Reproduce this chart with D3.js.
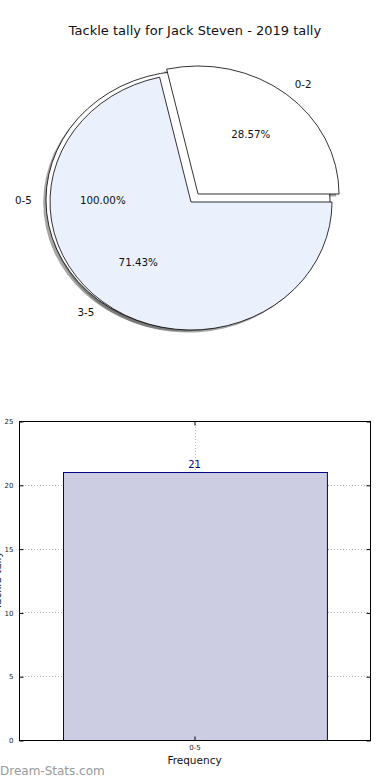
<!DOCTYPE html>
<html>
<head>
<meta charset="utf-8">
<script src="https://cdn.jsdelivr.net/npm/d3@7"></script>
<style>
  body { margin: 0; background: #fff; }
  text { font-family: "DejaVu Sans", sans-serif; }
</style>
</head>
<body>
<svg id="container" width="390" height="780"></svg>
<script>
const title = "Tackle tally for Jack Steven - 2019 tally";

// outer pie (whole range) and inner pie (split)
const outerLabels = ["0-5"];
const outerValues = [21];
const innerLabels = ["0-2", "3-5"];
const innerValues = [6, 15];
const innerColors = ["#ffffff", "#eaf0fc"];
const innerExplode = [0.08, 0];

// bar chart
const barLabels = ["0-5"];
const barValues = [21];
const yTicks = [0, 5, 10, 15, 20, 25];

const svg = d3.select("#container");

svg.append("text")
  .attr("x", 195)
  .attr("y", 35)
  .attr("text-anchor", "middle")
  .attr("font-size", 13)
  .attr("fill", "#111")
  .text(title);

// ---- pie ----
const R = 100;
const rx = 141;
const ry = 128;
const cx = 191;
const cy = 202;

// matplotlib style: start at 3 o'clock, counterclockwise
const pie = d3.pie().sort(null).startAngle(Math.PI / 2).endAngle(Math.PI / 2 - 2 * Math.PI);
const arc = d3.arc().innerRadius(0).outerRadius(R);

const outerArcs = pie(outerValues);
const innerArcs = pie(innerValues);

// direction helpers (d3 angle -> screen unit vector)
const dir = (a) => [Math.sin(a), -Math.cos(a)];

const outerCenter = { x: 188, y: 200, rx: 142, ry: 129 };

const innerCenters = innerArcs.map((d, i) => {
  const [ux, uy] = dir((d.startAngle + d.endAngle) / 2);
  return { x: cx + ux * innerExplode[i] * rx, y: cy + uy * innerExplode[i] * ry, rx: rx, ry: ry };
});

const shadows = svg.append("g");
const wedges = svg.append("g");
const labels = svg.append("g");

function drawWedge(d, c, fill) {
  const tr = `translate(${c.x},${c.y}) scale(${c.rx / R},${c.ry / R})`;
  shadows.append("path")
    .attr("d", arc(d))
    .attr("transform", `translate(${c.x - 2.8},${c.y + 2.6}) scale(${c.rx / R},${c.ry / R})`)
    .attr("fill", "rgba(77,77,77,0.5)");
  wedges.append("path")
    .attr("d", arc(d))
    .attr("transform", tr)
    .attr("fill", fill)
    .attr("stroke", "#000")
    .attr("stroke-width", 0.8)
    .attr("stroke-linejoin", "miter")
    .attr("vector-effect", "non-scaling-stroke");
}

function drawLabels(d, c, label) {
  const [ux, uy] = dir((d.startAngle + d.endAngle) / 2);
  const pct = (d.endAngle - d.startAngle) / (-2 * Math.PI) * 100;
  labels.append("text")
    .attr("x", c.x + ux * 1.1 * c.rx)
    .attr("y", c.y + uy * 1.1 * c.ry)
    .attr("text-anchor", ux > 0 ? "start" : "end")
    .attr("dominant-baseline", "central")
    .attr("font-size", 10.3)
    .attr("fill", "#111")
    .text(label);
  labels.append("text")
    .attr("x", c.x + ux * 0.6 * c.rx)
    .attr("y", c.y + uy * 0.6 * c.ry)
    .attr("text-anchor", "middle")
    .attr("dominant-baseline", "central")
    .attr("font-size", 10.3)
    .attr("fill", "#111")
    .text(pct.toFixed(2) + "%");
}

outerArcs.forEach((d, i) => {
  drawWedge(d, outerCenter, "#ffffff");
  drawLabels(d, outerCenter, outerLabels[i]);
});
innerArcs.forEach((d, i) => {
  drawWedge(d, innerCenters[i], innerColors[i]);
  drawLabels(d, innerCenters[i], innerLabels[i]);
});

// ---- bar chart ----
const m = { left: 19, right: 370, top: 421, bottom: 740 };

const x = d3.scaleBand()
  .domain(barLabels)
  .range([m.left, m.right])
  .paddingInner(0)
  .paddingOuter(0.165);

const y = d3.scaleLinear()
  .domain([0, 25])
  .range([m.bottom, m.top]);

const grid = svg.append("g")
  .attr("stroke", "#b8b8b8")
  .attr("stroke-width", 1)
  .attr("stroke-dasharray", "1,2");

grid.selectAll("line.h")
  .data(yTicks)
  .enter()
  .append("line")
  .attr("x1", m.left)
  .attr("x2", m.right)
  .attr("y1", (d) => Math.round(y(d)) + 0.5)
  .attr("y2", (d) => Math.round(y(d)) + 0.5);

svg.selectAll("rect.bar")
  .data(barValues)
  .enter()
  .append("rect")
  .attr("class", "bar")
  .attr("x", (d, i) => Math.round(x(barLabels[i])) + 0.5)
  .attr("y", (d) => Math.round(y(d)) + 0.5)
  .attr("width", x.bandwidth())
  .attr("height", (d) => y(0) - Math.round(y(d)))
  .attr("fill", "#ccccE3")
  .attr("stroke", "#00008b")
  .attr("stroke-width", 1);

grid.selectAll("line.v")
  .data(barLabels)
  .enter()
  .append("line")
  .attr("x1", (d) => Math.round(x(d) + x.bandwidth() / 2) + 0.5)
  .attr("x2", (d) => Math.round(x(d) + x.bandwidth() / 2) + 0.5)
  .attr("y1", m.top)
  .attr("y2", m.bottom);

svg.selectAll("text.val")
  .data(barValues)
  .enter()
  .append("text")
  .attr("x", (d, i) => x(barLabels[i]) + x.bandwidth() / 2)
  .attr("y", (d) => y(d) - 4)
  .attr("text-anchor", "middle")
  .attr("font-size", 10)
  .attr("fill", "#00008b")
  .text((d) => d);

// frame
svg.append("rect")
  .attr("x", m.left + 0.5)
  .attr("y", m.top + 0.5)
  .attr("width", m.right - m.left)
  .attr("height", m.bottom - m.top)
  .attr("fill", "none")
  .attr("stroke", "#000")
  .attr("stroke-width", 1);

const yAxis = d3.axisLeft(y).tickValues(yTicks).tickSize(-4).tickPadding(6);
const ya = svg.append("g")
  .attr("transform", `translate(${m.left + 0.5},0.5)`)
  .call(yAxis);
ya.select(".domain").remove();
ya.selectAll("text").attr("font-size", 7).attr("fill", "#222").attr("font-family", "DejaVu Sans");

const yAxisR = d3.axisRight(y).tickValues(yTicks).tickSize(-4).tickFormat("");
const yr = svg.append("g")
  .attr("transform", `translate(${m.right + 0.5},0.5)`)
  .call(yAxisR);
yr.select(".domain").remove();

const xAxis = d3.axisBottom(x).tickSize(-4).tickPadding(5);
const xa = svg.append("g")
  .attr("transform", `translate(0.5,${m.bottom + 0.5})`)
  .call(xAxis);
xa.select(".domain").remove();
xa.selectAll("text").attr("font-size", 7).attr("fill", "#222").attr("font-family", "DejaVu Sans");

const xAxisT = d3.axisTop(x).tickSize(-4).tickFormat("");
const xt = svg.append("g")
  .attr("transform", `translate(0.5,${m.top + 0.5})`)
  .call(xAxisT);
xt.select(".domain").remove();

svg.append("text")
  .attr("x", (m.left + m.right) / 2)
  .attr("y", 764)
  .attr("text-anchor", "middle")
  .attr("font-size", 10.5)
  .attr("fill", "#111")
  .text("Frequency");

// y label sits mostly off the left edge, as in the source image
svg.append("text")
  .attr("transform", `translate(1,${(m.top + m.bottom) / 2}) rotate(-90)`)
  .attr("text-anchor", "middle")
  .attr("font-size", 10.5)
  .attr("fill", "#111")
  .text("Tackle tally");

svg.append("text")
  .attr("x", 0)
  .attr("y", 775)
  .attr("font-size", 12)
  .attr("fill", "#999")
  .text("Dream-Stats.com");
</script>
</body>
</html>
